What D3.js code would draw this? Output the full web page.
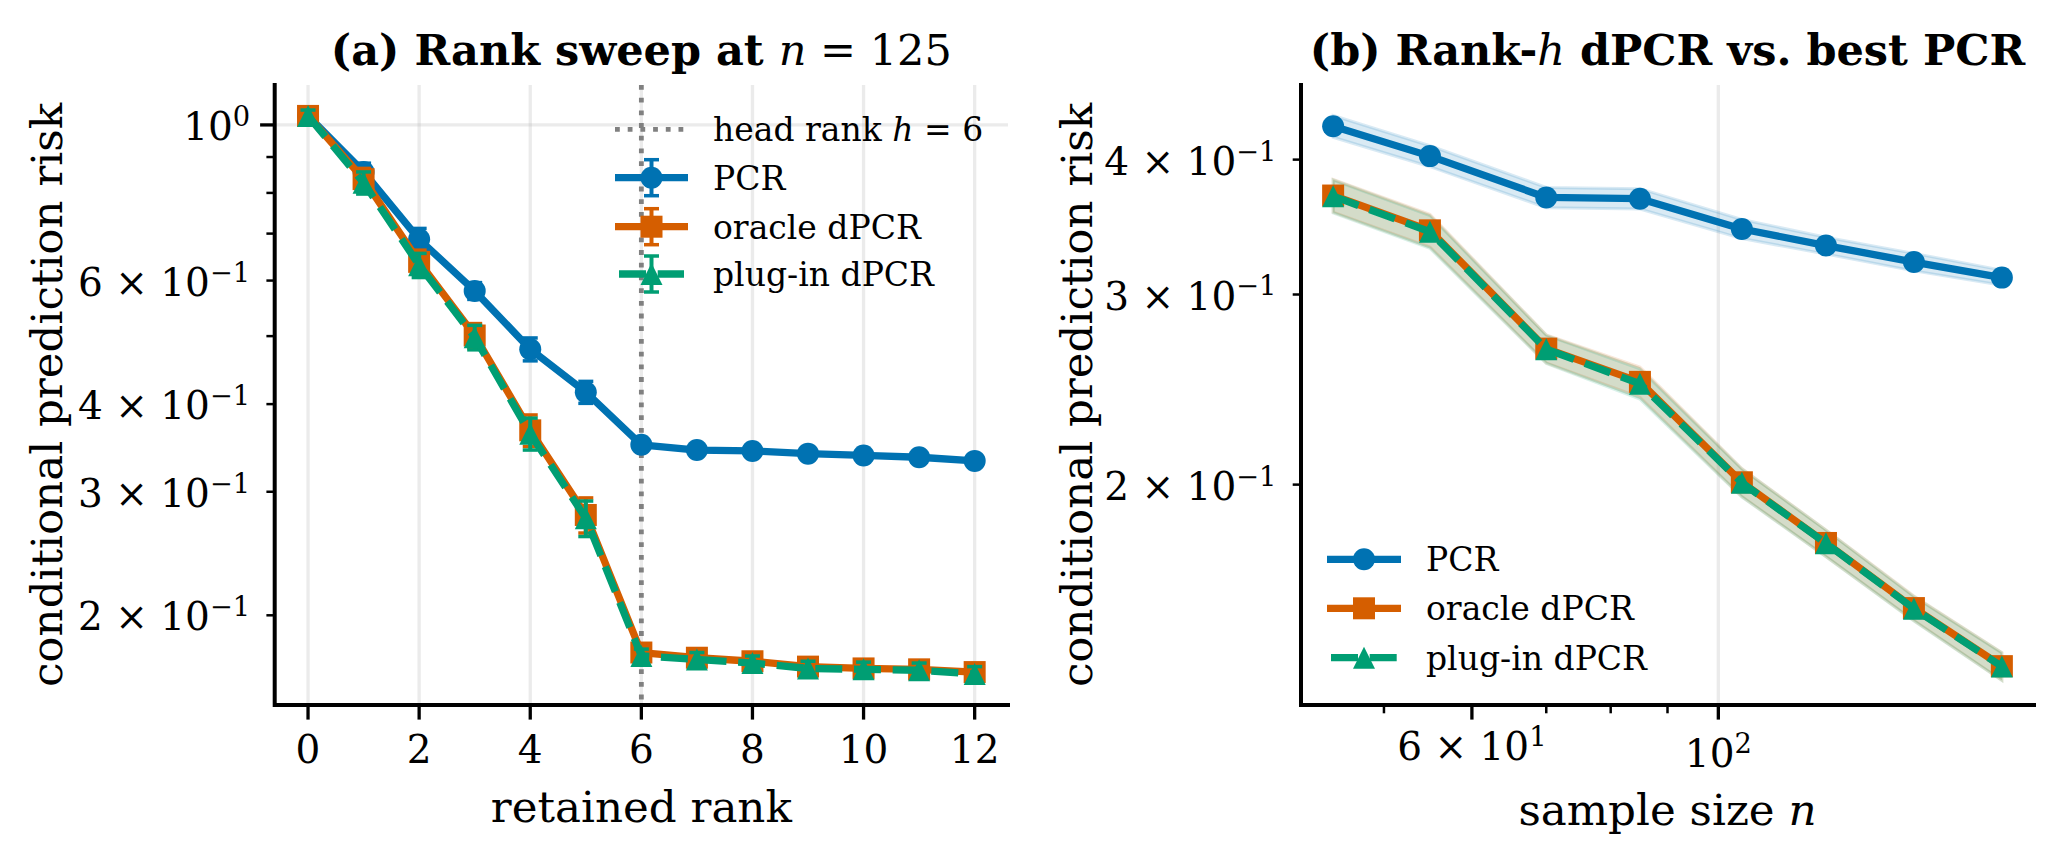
<!DOCTYPE html>
<html>
<head>
<meta charset="utf-8">
<script src="https://cdn.jsdelivr.net/npm/d3@7"></script>
<style>
body{margin:0;background:#fff;}
svg text{font-family:"DejaVu Serif",serif;fill:#000;}
</style>
</head>
<body>
<svg id="fig" width="2062" height="867"></svg>
<script>
// panel (a): rank sweep at n = 125
const rank = [0,1,2,3,4,5,6,7,8,9,10,11,12];
const pcrRank = [1.03,0.857,0.687,0.580,0.479,0.416,0.350,0.344,0.343,0.340,0.338,0.336,0.332];
const pcrRankErr = [0.02,0.025,0.025,0.016,0.018,0.015,0.005,0.005,0.005,0.005,0.005,0.005,0.005];
const oracleRank = [1.03,0.837,0.638,0.501,0.367,0.278,0.177,0.174,0.172,0.169,0.168,0.1675,0.166];
const oracleRankErr = [0.02,0.03,0.025,0.02,0.019,0.016,0.004,0.004,0.004,0.004,0.004,0.004,0.004];
const pluginRank = [1.03,0.827,0.631,0.498,0.363,0.275,0.175,0.173,0.171,0.168,0.1675,0.167,0.165];
const pluginRankErr = [0.02,0.03,0.025,0.02,0.019,0.016,0.004,0.004,0.004,0.004,0.004,0.004,0.004];
const headRank = 6;

// panel (b): risk vs sample size
const sampleN = [45,55,70,85,105,125,150,180];
const pcrN = [0.4295,0.403,0.369,0.368,0.345,0.333,0.3215,0.311];
const pcrNsd = [0.010,0.009,0.008,0.008,0.007,0.006,0.006,0.005];
const oracleN = [0.3705,0.344,0.2673,0.249,0.201,0.1766,0.1537,0.1358];
const oracleNsd = [0.013,0.012,0.008,0.008,0.006,0.005,0.004,0.004];
const pluginN = [0.370,0.343,0.267,0.248,0.2008,0.1765,0.1535,0.1357];
const pluginNsd = [0.013,0.012,0.008,0.008,0.006,0.005,0.004,0.004];

// ticks
const xTicksA = [0,2,4,6,8,10,12];
const yLabeledA = [0.2,0.3,0.4,0.6,1];
const yMinorA = [0.5,0.7,0.8,0.9];
const yLabeledB = [0.2,0.3,0.4];
const xLabeledB = [60,100];
const xMinorB = [50,70,80,90];

const C_PCR = "#0072B2", C_OR = "#D55E00", C_PI = "#009E73";
const LW = 7.3, MS = 22, TICKFS = 39, LABFS = 43.6, LEGFS = 33, TITLEFS = 43;

var svg = d3.select('#fig');
svg.append('rect').attr('width',2062).attr('height',867).attr('fill','#fff');

var A = {L:274.7,R:1008,T:85,B:705};
var Bp = {L:1301,R:2034,T:85,B:705};

var xA = d3.scaleLinear().domain([-0.6,12.6]).range([A.L,A.R]);
var yA = d3.scaleLog().domain([0.149,1.14]).range([A.B,A.T]);
var xB = d3.scaleLog().domain([42.1,192.4]).range([Bp.L,Bp.R]);
var yB = d3.scaleLog().domain([0.125,0.469]).range([Bp.B,Bp.T]);

var sciLabel = function(t,v,fs){
    var e = Math.floor(Math.log10(v)+1e-9);
    var m = Math.round(v/Math.pow(10,e));
    if(m!==1) t.append('tspan').text(m+' × ');
    t.append('tspan').text('10');
    t.append('tspan').attr('font-size',fs*0.7).attr('dy',-0.36*fs)
        .text(e<0 ? '\u2212'+(-e) : ''+e);
};

var marker = function(g,shape,cx,cy,color){
    var h = MS/2;
    if(shape=='o'){
        g.append('circle').attr('cx',cx).attr('cy',cy).attr('r',h).attr('fill',color);
    }else if(shape=='s'){
        g.append('rect').attr('x',cx-h).attr('y',cy-h).attr('width',MS).attr('height',MS).attr('fill',color);
    }else{
        g.append('path').attr('d','M'+cx+','+(cy-h)+'L'+(cx+h)+','+(cy+h)+'L'+(cx-h)+','+(cy+h)+'Z')
            .attr('fill',color);
    }
};

var errbar = function(g,cx,y0,y1,color){
    g.append('line').attr('x1',cx).attr('x2',cx).attr('y1',y0).attr('y2',y1)
        .attr('stroke',color).attr('stroke-width',4);
    [y0,y1].forEach(function(yy){
        g.append('line').attr('x1',cx-7.5).attr('x2',cx+7.5).attr('y1',yy).attr('y2',yy)
            .attr('stroke',color).attr('stroke-width',3.5);
    });
};

var drawFrame = function(P,x,y,xt,xmin,yt,ymin,xfmt){
    var g = svg.append('g');
    xt.forEach(function(v){
        g.append('line').attr('x1',x(v)).attr('x2',x(v)).attr('y1',P.B).attr('y2',P.B+14.6)
            .attr('stroke','#000').attr('stroke-width',3.3);
        var t = g.append('text').attr('x',x(v)).attr('text-anchor','middle').attr('font-size',TICKFS);
        xfmt(t,v);
    });
    xmin.forEach(function(v){
        g.append('line').attr('x1',x(v)).attr('x2',x(v)).attr('y1',P.B).attr('y2',P.B+8.3)
            .attr('stroke','#000').attr('stroke-width',2.5);
    });
    yt.forEach(function(v){
        var major = Math.abs(Math.log10(v)-Math.round(Math.log10(v)))<1e-9;
        g.append('line').attr('x1',P.L).attr('x2',P.L-(major?14.6:8.3)).attr('y1',y(v)).attr('y2',y(v))
            .attr('stroke','#000').attr('stroke-width',major?3.3:2.5);
        var t = g.append('text').attr('x',P.L-24.5).attr('y',y(v)+15)
            .attr('text-anchor','end').attr('font-size',TICKFS);
        sciLabel(t,v,TICKFS);
    });
    ymin.forEach(function(v){
        g.append('line').attr('x1',P.L).attr('x2',P.L-8.3).attr('y1',y(v)).attr('y2',y(v))
            .attr('stroke','#000').attr('stroke-width',2.5);
    });
    g.append('path').attr('d','M'+P.L+','+P.T+'V'+P.B+'H'+P.R)
        .attr('fill','none').attr('stroke','#000').attr('stroke-width',4).attr('stroke-linecap','square');
};

var gridV = function(P,x,vals){
    vals.forEach(function(v){
        svg.append('line').attr('x1',x(v)).attr('x2',x(v)).attr('y1',P.T).attr('y2',P.B)
            .attr('stroke','#b0b0b0').attr('stroke-opacity',0.25).attr('stroke-width',3.3);
    });
};
var gridH = function(P,y,vals){
    vals.forEach(function(v){
        svg.append('line').attr('x1',P.L).attr('x2',P.R).attr('y1',y(v)).attr('y2',y(v))
            .attr('stroke','#b0b0b0').attr('stroke-opacity',0.25).attr('stroke-width',3.3);
    });
};

// ---------- panel (a)
gridV(A,xA,xTicksA);
gridH(A,yA,[1]);

var gA = svg.append('g');
gA.append('line').attr('x1',xA(headRank)).attr('x2',xA(headRank)).attr('y1',A.T).attr('y2',A.B)
    .attr('stroke','#808080').attr('stroke-width',4.8).attr('stroke-dasharray','4.8,7.9');

var seriesA = [
    {v:pcrRank,e:pcrRankErr,c:C_PCR,m:'o',dash:null},
    {v:oracleRank,e:oracleRankErr,c:C_OR,m:'s',dash:null},
    {v:pluginRank,e:pluginRankErr,c:C_PI,m:'^',dash:'27,11.7'}
];
var lineA = d3.line().x(function(d){return xA(d[0]);}).y(function(d){return yA(d[1]);});
seriesA.forEach(function(s){
    var pts = rank.map(function(r,i){return [r,s.v[i]];});
    pts.forEach(function(p,i){
        errbar(gA,xA(p[0]),yA(p[1]-s.e[i]),yA(p[1]+s.e[i]),s.c);
    });
    gA.append('path').attr('d',lineA(pts)).attr('fill','none').attr('stroke',s.c)
        .attr('stroke-width',LW).attr('stroke-linejoin','round')
        .attr('stroke-dasharray',s.dash);
    pts.forEach(function(p){marker(gA,s.m,xA(p[0]),yA(p[1]),s.c);});
});

drawFrame(A,xA,yA,xTicksA,[],yLabeledA,yMinorA,function(t,v){
    t.attr('y',A.B+58).text(v);
});

// ---------- panel (b)
gridV(Bp,xB,[100]);
var gB = svg.append('g');
var seriesB = [
    {v:pcrN,sd:pcrNsd,c:C_PCR,m:'o',dash:null},
    {v:oracleN,sd:oracleNsd,c:C_OR,m:'s',dash:null},
    {v:pluginN,sd:pluginNsd,c:C_PI,m:'^',dash:'27,11.7'}
];
seriesB.forEach(function(s){
    var band = d3.area()
        .x(function(d,i){return xB(sampleN[i]);})
        .y0(function(d,i){return yB(d-s.sd[i]);})
        .y1(function(d,i){return yB(d+s.sd[i]);});
    gB.append('path').attr('d',band(s.v)).attr('fill',s.c).attr('fill-opacity',0.15)
        .attr('stroke',s.c).attr('stroke-opacity',0.15).attr('stroke-width',3);
});
var lineB = d3.line().x(function(d,i){return xB(sampleN[i]);}).y(function(d){return yB(d);});
seriesB.forEach(function(s){
    gB.append('path').attr('d',lineB(s.v)).attr('fill','none').attr('stroke',s.c)
        .attr('stroke-width',LW).attr('stroke-linejoin','round')
        .attr('stroke-dasharray',s.dash);
    s.v.forEach(function(v,i){marker(gB,s.m,xB(sampleN[i]),yB(v),s.c);});
});

drawFrame(Bp,xB,yB,xLabeledB,xMinorB,yLabeledB,[],function(t,v){
    var pow = Math.abs(Math.log10(v)-Math.round(Math.log10(v)))<1e-9;
    t.attr('y',Bp.B+(pow?61.7:55));
    sciLabel(t,v,TICKFS);
});

// ---------- labels and titles
var text = function(x,y,fs,parts,anchor,rot,weight){
    var t = svg.append('text').attr('x',x).attr('y',y).attr('font-size',fs)
        .attr('text-anchor',anchor||'middle');
    if(weight) t.attr('font-weight',weight);
    if(rot) t.attr('transform','rotate(-90,'+x+','+y+')');
    parts.forEach(function(p){
        var s = t.append('tspan').text(p[0]);
        if(p[1]=='i') s.attr('font-style','italic').attr('font-weight','normal');
        if(p[1]=='r') s.attr('font-weight','normal');
    });
    return t;
};

text((A.L+A.R)/2,65,TITLEFS,[['(a) Rank sweep at '],['n','i'],[' = 125','r']],'middle',false,'bold');
text((Bp.L+Bp.R)/2,65,TITLEFS,[['(b) Rank-'],['h','i'],[' dPCR vs. best PCR']],'middle',false,'bold');

text((A.L+A.R)/2,822,LABFS,[['retained rank']]);
text((Bp.L+Bp.R)/2,825,LABFS,[['sample size '],['n','i']]);
text(62,(A.T+A.B)/2,LABFS,[['conditional prediction risk']],'middle',true);
text(1092,(Bp.T+Bp.B)/2,LABFS,[['conditional prediction risk']],'middle',true);

// ---------- legends
var legendRow = function(x0,x1,cy,s,withErr,label){
    var g = svg.append('g');
    var cx = (x0+x1)/2;
    if(s.dotted){
        g.append('line').attr('x1',x0).attr('x2',x1).attr('y1',cy).attr('y2',cy)
            .attr('stroke','#808080').attr('stroke-width',4.8).attr('stroke-dasharray','4.8,7.9');
    }else{
        var a = s.dash ? x0+4 : x0, b = s.dash ? x1-4 : x1;
        if(withErr) errbar(g,cx,cy-18,cy+18,s.c);
        g.append('line').attr('x1',a).attr('x2',b).attr('y1',cy).attr('y2',cy)
            .attr('stroke',s.c).attr('stroke-width',LW).attr('stroke-dasharray',s.dash);
        marker(g,s.m,cx,cy,s.c);
    }
    text(x1+25,cy+12,LEGFS,label,'start');
};
legendRow(615,688,129.3,{dotted:true},false,[['head rank '],['h','i'],[' = 6']]);
legendRow(615,688,177.7,seriesA[0],true,[['PCR']]);
legendRow(615,688,226.7,seriesA[1],true,[['oracle dPCR']]);
legendRow(615,688,274,seriesA[2],true,[['plug-in dPCR']]);

legendRow(1327,1401,559.3,seriesB[0],false,[['PCR']]);
legendRow(1327,1401,608.3,seriesB[1],false,[['oracle dPCR']]);
legendRow(1327,1401,657.7,seriesB[2],false,[['plug-in dPCR']]);
</script>
</body>
</html>
